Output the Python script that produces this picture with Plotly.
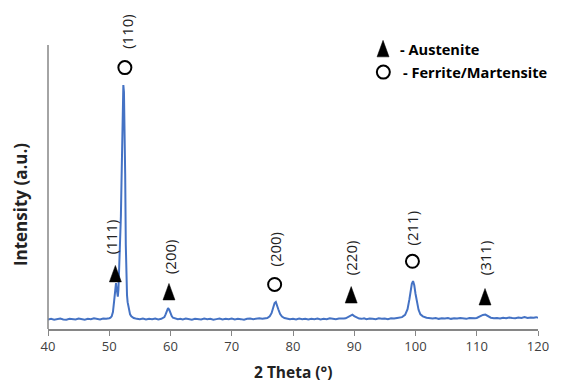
import plotly.graph_objects as go

# ---- spectrum ----
two_theta = [
    40.0, 40.5, 41.0, 41.5, 42.0, 42.5, 43.0, 43.5, 44.0, 44.5,
    45.0, 45.5, 46.0, 46.5, 47.0, 47.5, 48.0, 48.5, 49.0, 49.5,
    50.0, 50.2, 50.4, 50.6, 50.8, 50.9, 51.0, 51.1, 51.2, 51.3,
    51.4, 51.5, 51.6, 51.7, 51.8, 51.9, 52.0, 52.1, 52.2, 52.3,
    52.4, 52.5, 52.6, 52.7, 52.8, 52.9, 53.0, 53.1, 53.2, 53.4,
    53.6, 53.8, 54.0, 54.5, 55.0, 55.5, 56.0, 56.5, 57.0, 57.5,
    58.0, 58.5, 58.8, 59.0, 59.2, 59.4, 59.6, 59.8, 60.0, 60.2,
    60.4, 60.8, 61.2, 61.6, 62.0, 62.5, 63.0, 63.5, 64.0, 64.5,
    65.0, 65.5, 66.0, 66.5, 67.0, 67.5, 68.0, 68.5, 69.0, 69.5,
    70.0, 70.5, 71.0, 71.5, 72.0, 72.5, 73.0, 73.5, 74.0, 74.5,
    75.0, 75.4, 75.8, 76.2, 76.5, 76.8, 77.0, 77.2, 77.4, 77.6,
    77.9, 78.2, 78.6, 79.0, 79.5, 80.0, 80.5, 81.0, 81.5, 82.0,
    82.5, 83.0, 83.5, 84.0, 84.5, 85.0, 85.5, 86.0, 86.5, 87.0,
    87.5, 88.0, 88.3, 88.6, 89.0, 89.4, 89.7, 90.0, 90.4, 90.8,
    91.2, 91.6, 92.0, 92.5, 93.0, 93.5, 94.0, 94.5, 95.0, 95.5,
    96.0, 96.5, 97.0, 97.4, 97.8, 98.3, 98.7, 99.0, 99.2, 99.4,
    99.6, 99.8, 100.0, 100.2, 100.5, 100.8, 101.2, 101.8, 102.3, 102.8,
    103.3, 103.8, 104.3, 104.8, 105.3, 105.8, 106.3, 106.8, 107.3, 107.8,
    108.3, 108.8, 109.3, 109.7, 110.0, 110.5, 111.0, 111.4, 111.8, 112.3,
    112.8, 113.3, 113.8, 114.3, 114.8, 115.3, 115.8, 116.3, 116.8, 117.3,
    117.8, 118.3, 118.8, 119.3, 119.7, 120.0,
]
intensity = [
    3.4, 3.6, 3.3, 3.5, 3.7, 3.4, 3.3, 3.6, 3.5, 3.4,
    3.7, 3.5, 3.3, 3.6, 3.5, 3.8, 3.6, 3.4, 3.7, 3.6,
    3.8, 4.0, 4.5, 6.0, 10.0, 13.0, 15.5, 16.3, 14.5, 12.0,
    11.5, 14.0, 20.0, 30.0, 36.0, 40.0, 52.0, 70.0, 83.0, 86.5,
    84.0, 72.0, 55.0, 30.0, 17.0, 12.0, 9.5, 8.0, 6.5, 5.2,
    4.5, 4.0, 3.9, 3.6, 3.5, 3.7, 3.4, 3.6, 3.5, 3.7,
    3.4, 3.6, 3.8, 4.2, 5.2, 6.6, 7.4, 6.8, 5.5, 4.6,
    4.0, 3.7, 3.5, 3.6, 3.4, 3.7, 3.5, 3.3, 3.6, 3.5,
    3.4, 3.7, 3.5, 3.6, 3.3, 3.5, 3.7, 3.4, 3.6, 3.5,
    3.7, 3.4, 3.6, 3.5, 3.3, 3.6, 3.7, 3.5, 3.6, 3.8,
    3.6, 3.8, 3.9, 4.5, 5.6, 7.8, 9.2, 9.6, 8.6, 7.0,
    5.3, 4.4, 3.9, 3.7, 3.5, 3.6, 3.4, 3.7, 3.5, 3.6,
    3.4, 3.6, 3.5, 3.7, 3.4, 3.6, 3.5, 3.8, 3.6, 3.5,
    3.7, 3.6, 3.7, 3.8, 4.3, 5.0, 5.1, 4.6, 4.0, 3.7,
    3.6, 3.8, 3.5, 3.7, 3.6, 3.5, 3.8, 3.6, 3.7, 3.5,
    3.8, 3.7, 3.9, 4.0, 4.2, 5.0, 7.0, 10.5, 13.5, 16.0,
    17.0, 15.5, 12.5, 9.5, 6.8, 5.2, 4.5, 4.0, 3.8, 3.7,
    3.9, 3.6, 3.8, 3.7, 3.9, 3.6, 3.8, 3.7, 3.9, 3.8,
    3.6, 3.9, 3.7, 3.8, 3.9, 4.4, 5.0, 5.1, 4.6, 4.0,
    3.8, 3.9, 3.7, 4.0, 3.8, 4.1, 3.9, 3.8, 4.1, 3.9,
    4.2, 3.9, 4.1, 4.0, 4.2, 4.0,
]

# ---- peak annotations ----
peak_pos = [51.0, 52.55, 59.75, 77.0, 89.5, 99.5, 111.35]
peak_hkl = ["(111)", "(110)", "(200)", "(200)", "(220)", "(211)", "(311)"]
peak_phase = ["A", "F", "A", "F", "A", "F", "A"]
# triangle base / circle centre heights, and label centre heights
marker_y = [16.7, 92.7, 10.3, 15.8, 9.2, 24.0, 8.5]
label_x = [50.3, 52.95, 59.85, 77.0, 89.6, 99.5, 111.4]
label_y = [32.6, 105.5, 25.7, 28.4, 25.4, 35.8, 25.2]

x_ticks = [40, 50, 60, 70, 80, 90, 100, 110, 120]
y_axis_top = 100.7

legend_text = ["- Austenite", "- Ferrite/Martensite"]
legend_sym_x = [94.7, 94.75]
legend_sym_y = [96.5, 91.1]
legend_txt_x = [97.3, 97.75]
legend_txt_y = [99.3, 91.1]

FONT = "Open Sans"
BLUE = "#4472C4"
GREY = "#868686"
TRI_PATH = "M-6,0 L6,0 L0,16.5 Z"

fig = go.Figure()
fig.add_trace(go.Scatter(x=two_theta, y=intensity, mode="lines",
                         line=dict(color=BLUE, width=2), showlegend=False,
                         hoverinfo="skip"))

fx_x = [p for p, ph in zip(peak_pos, peak_phase) if ph == "F"]
fx_y = [m for m, ph in zip(marker_y, peak_phase) if ph == "F"]
circ = dict(symbol="circle-open", size=13, color="black", line=dict(width=2, color="black"))
fig.add_trace(go.Scatter(x=fx_x + [legend_sym_x[1]], y=fx_y + [legend_sym_y[1]],
                         mode="markers", marker=circ, showlegend=False,
                         cliponaxis=False, hoverinfo="skip"))

# tall triangles (pixel-sized shapes anchored at the data point)
tri_pts = [(p, m) for p, m, ph in zip(peak_pos, marker_y, peak_phase) if ph == "A"]
tri_pts.append((legend_sym_x[0], legend_sym_y[0]))
for px_, py_ in tri_pts:
    fig.add_shape(type="path", xref="x", yref="y", xsizemode="pixel", ysizemode="pixel",
                  xanchor=px_, yanchor=py_, path=TRI_PATH,
                  fillcolor="black", line=dict(color="black", width=0.5))

for lx, lab, ly in zip(label_x, peak_hkl, label_y):
    fig.add_annotation(x=lx, y=ly, text=lab, showarrow=False, textangle=-90,
                       font=dict(family=FONT, size=15, color="#222"),
                       xanchor="center", yanchor="middle")

for tx, ty, tt in zip(legend_txt_x, legend_txt_y, legend_text):
    fig.add_annotation(x=tx, y=ty, text="<b>" + tt + "</b>", showarrow=False,
                       xanchor="left", yanchor="middle", borderpad=0,
                       font=dict(family=FONT, size=14.6, color="black"))

# axis titles as paper annotations
fig.add_annotation(xref="paper", yref="paper", x=0.5, y=-0.134, yanchor="middle",
                   text="<b>2 Theta (°)</b>", showarrow=False, borderpad=0,
                   font=dict(family=FONT, size=15.5, color="#222"))
fig.add_annotation(xref="paper", yref="paper", x=-0.0571, y=0.386, xanchor="center",
                   yanchor="middle", textangle=-90,
                   text="<b>Intensity (a.u.)</b>", showarrow=False,
                   font=dict(family=FONT, size=17, color="#222"))

# visible part of the vertical axis
fig.add_shape(type="line", xref="paper", yref="y", x0=0, x1=0, y0=0, y1=y_axis_top,
              line=dict(color=GREY, width=1.5))

fig.update_layout(
    width=553, height=376,
    margin=dict(l=40, r=23, t=0, b=55),
    paper_bgcolor="white", plot_bgcolor="white",
    font=dict(family=FONT, color="#595959"),
    xaxis=dict(range=[40, 120], tickvals=x_ticks, ticks="outside", ticklen=5,
               tickcolor=GREY, showline=True, linecolor=GREY, linewidth=1.5,
               showgrid=False, zeroline=False, automargin=False,
               tickfont=dict(family=FONT, size=13, color="#404040")),
    yaxis=dict(range=[0, 113.83], showticklabels=False, ticks="", showline=False,
               showgrid=False, zeroline=False, automargin=False),
)

fig.write_html("out.html")
